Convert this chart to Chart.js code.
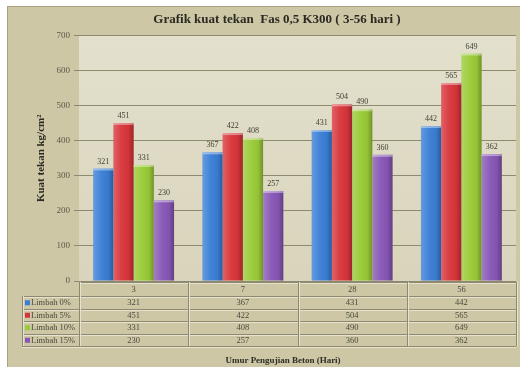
<!DOCTYPE html>
<html>
<head>
<meta charset="utf-8">
<script src="https://cdn.jsdelivr.net/npm/chart.js@4.4.1/dist/chart.umd.min.js"></script>
<style>
  html, body { margin: 0; padding: 0; background: #fff; }
  #grafik { display: block; }
</style>
</head>
<body>
<canvas id="grafik" width="520" height="367"></canvas>
<script>
const umur = ["3", "7", "28", "56"];
const limbah0 = [321, 367, 431, 442];
const limbah5 = [451, 422, 504, 565];
const limbah10 = [331, 408, 490, 649];
const limbah15 = [230, 257, 360, 362];
const namaSeri = ["Limbah 0%", "Limbah 5%", "Limbah 10%", "Limbah 15%"];
const tickY = [0, 100, 200, 300, 400, 500, 600, 700];

const warna = ["#3a7ed6", "#d8353a", "#9acb38", "#8857b6"];
const hurufSerif = "'Liberation Serif', 'Times New Roman', serif";

// latar belakang bingkai dan area plot
const latar = {
  id: "latar",
  beforeDraw(chart) {
    const { ctx, chartArea: a } = chart;
    ctx.save();
    ctx.fillStyle = "#fff";
    ctx.fillRect(0, 0, chart.width, chart.height);
    ctx.fillStyle = "#cdc7a6";
    ctx.fillRect(8, 7, chart.width - 8, chart.height - 7);
    ctx.strokeStyle = "#a8a388";
    ctx.strokeRect(7.5, 6.5, chart.width, chart.height);
    const g = ctx.createLinearGradient(0, a.top, 0, a.bottom);
    g.addColorStop(0, "#e3e0cd");
    g.addColorStop(1, "#d9d4bb");
    ctx.fillStyle = g;
    ctx.fillRect(a.left, a.top, a.right - a.left, a.bottom - a.top);
    ctx.restore();
  }
};

// efek 3D pada batang dan label nilai di atasnya
const batang3d = {
  id: "batang3d",
  afterDatasetsDraw(chart) {
    const ctx = chart.ctx;
    ctx.save();
    chart.data.datasets.forEach((ds, i) => {
      chart.getDatasetMeta(i).data.forEach((bar, j) => {
        const x0 = bar.x - bar.width / 2;
        const w = bar.width;
        const h = bar.base - bar.y;
        const g = ctx.createLinearGradient(x0, 0, x0 + w, 0);
        g.addColorStop(0, "rgba(255,255,255,0.22)");
        g.addColorStop(0.4, "rgba(255,255,255,0.04)");
        g.addColorStop(0.75, "rgba(0,0,0,0.04)");
        g.addColorStop(1, "rgba(0,0,0,0.28)");
        ctx.fillStyle = g;
        ctx.fillRect(x0, bar.y, w, h);
        ctx.fillStyle = "rgba(255,255,255,0.4)";
        ctx.fillRect(x0, bar.y, w, 2);

        ctx.fillStyle = "#3e3e32";
        ctx.font = "8px " + hurufSerif;
        ctx.textAlign = "center";
        ctx.textBaseline = "bottom";
        ctx.fillText(ds.data[j], bar.x, bar.y - 3);
      });
    });
    ctx.restore();
  }
};

// tabel data di bawah grafik
const tabelData = {
  id: "tabelData",
  afterDraw(chart) {
    const { ctx, chartArea: a } = chart;
    const sx = chart.scales.x;
    const kolom = [a.left];
    for (let i = 0; i < umur.length - 1; i++) {
      kolom.push((sx.getPixelForValue(i) + sx.getPixelForValue(i + 1)) / 2);
    }
    kolom.push(a.right);
    const kiri = 22;
    const atas = a.bottom + 1;
    const barisY = [atas, atas + 14];
    for (let r = 0; r < namaSeri.length; r++) barisY.push(barisY[barisY.length - 1] + 12.5);
    const bawah = barisY[barisY.length - 1];

    ctx.save();
    const garis = (x1, y1, x2, y2) => {
      ctx.strokeStyle = "#8e8a70";
      ctx.beginPath(); ctx.moveTo(x1, y1); ctx.lineTo(x2, y2); ctx.stroke();
      ctx.strokeStyle = "#e6e2cf";
      ctx.beginPath();
      if (y1 === y2) { ctx.moveTo(x1, y1 + 1); ctx.lineTo(x2, y2 + 1); }
      else { ctx.moveTo(x1 + 1, y1); ctx.lineTo(x2 + 1, y2); }
      ctx.stroke();
    };
    ctx.lineWidth = 1;
    garis(a.left, Math.round(atas) + 0.5, a.right, Math.round(atas) + 0.5);
    for (let r = 1; r < barisY.length; r++) {
      const y = Math.round(barisY[r]) + 0.5;
      garis(kiri, y, a.right, y);
    }
    kolom.forEach((x, k) => {
      const xr = Math.round(x) + 0.5;
      garis(xr, k === 0 ? atas : atas, xr, bawah);
    });
    garis(kiri + 0.5, barisY[1], kiri + 0.5, bawah);

    ctx.font = "8.5px " + hurufSerif;
    ctx.fillStyle = "#4a4a3c";
    ctx.textBaseline = "middle";
    ctx.textAlign = "center";
    umur.forEach((u, k) => {
      ctx.fillText(u, sx.getPixelForValue(k), (barisY[0] + barisY[1]) / 2 + 1);
    });
    chart.data.datasets.forEach((ds, r) => {
      const yc = (barisY[r + 1] + barisY[r + 2]) / 2 + 1;
      ds.data.forEach((v, k) => {
        ctx.textAlign = "center";
        ctx.fillText(v, sx.getPixelForValue(k), yc);
      });
      ctx.fillStyle = ds.backgroundColor;
      ctx.fillRect(kiri + 3, yc - 3, 5, 5);
      ctx.fillStyle = "#4a4a3c";
      ctx.textAlign = "left";
      ctx.fillText(ds.label, kiri + 9, yc);
    });

    // judul sumbu X
    ctx.font = "bold 9px " + hurufSerif;
    ctx.fillStyle = "#2e2e26";
    ctx.textAlign = "center";
    ctx.fillText("Umur Pengujian Beton (Hari)", 283, 361);
    ctx.restore();
  }
};

const seri = [limbah0, limbah5, limbah10, limbah15];

new Chart(document.getElementById("grafik"), {
  type: "bar",
  data: {
    labels: umur,
    datasets: seri.map((d, i) => ({
      label: namaSeri[i],
      data: d,
      backgroundColor: warna[i],
      borderWidth: 0,
      categoryPercentage: 0.74,
      barPercentage: 1
    }))
  },
  options: {
    responsive: false,
    animation: false,
    layout: { padding: { left: 38, right: 4, top: 0, bottom: 0 } },
    plugins: {
      legend: { display: false },
      tooltip: { enabled: false },
      title: {
        display: true,
        text: "Grafik kuat tekan  Fas 0,5 K300 ( 3-56 hari )",
        color: "#2a2a22",
        font: { family: hurufSerif, size: 13, weight: "bold" },
        padding: { top: 12, bottom: 8 }
      }
    },
    scales: {
      x: {
        ticks: { display: false },
        grid: { display: false },
        border: { display: false },
        afterFit(scale) { scale.height = 86; }
      },
      y: {
        min: 0,
        max: 700,
        afterBuildTicks(scale) { scale.ticks = tickY.map(v => ({ value: v })); },
        afterFit(scale) { scale.width = 41; },
        ticks: {
          color: "#5a5a48",
          font: { family: hurufSerif, size: 9 },
          padding: 4
        },
        grid: { color: "#8e8a70", tickLength: 5, lineWidth: 1 },
        border: { display: false },
        title: {
          display: true,
          text: "Kuat tekan kg/cm²",
          color: "#2a2a22",
          font: { family: hurufSerif, size: 11, weight: "bold" },
          padding: { top: -3, bottom: 0 }
        }
      }
    }
  },
  plugins: [latar, batang3d, tabelData]
});
</script>
</body>
</html>
